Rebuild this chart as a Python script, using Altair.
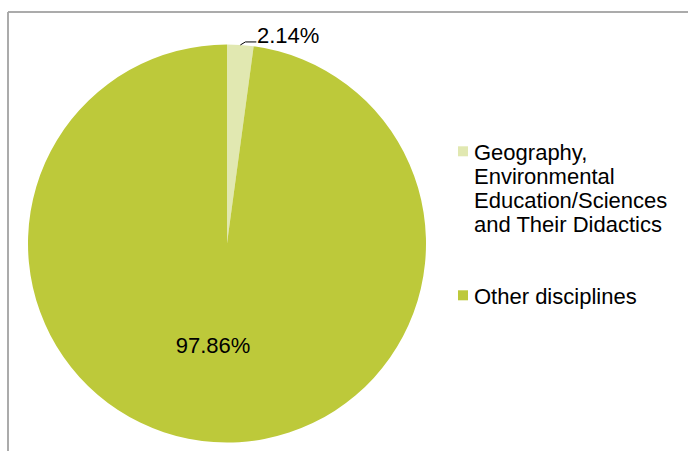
import math
import altair as alt
import pandas as pd

# ---- data ----
categories = [
    "Geography, Environmental Education/Sciences and Their Didactics",
    "Other disciplines",
]
values = [2.14, 97.86]
pct_labels = ["2.14%", "97.86%"]
legend_lines = [
    ["Geography,", "Environmental", "Education/Sciences", "and Their Didactics"],
    ["Other disciplines"],
]
colors = ["#e1e8b1", "#bdc93a"]

# ---- layout ----
W, H = 688, 451
CX, CY, R = 227, 243.5, 199
FONT = "Liberation Sans"

df = pd.DataFrame({"category": categories, "value": values, "label": pct_labels,
                   "order": list(range(len(categories)))})

label_expr = " : ".join(
    [f"datum.label == {c!r} ? {l!r}" for c, l in zip(categories, legend_lines)]
    + ["datum.label"]
)

# square legend swatch, nudged down so it sits beside the first label line
SWATCH = "M-1,0.66H1V2.66H-1Z"

base = alt.Chart(df).encode(
    theta=alt.Theta("value:Q", stack=True),
    order=alt.Order("order:Q"),
    x=alt.value(CX),
    y=alt.value(CY),
)

pie = base.mark_arc(outerRadius=R).encode(
    color=alt.Color(
        "category:N",
        scale=alt.Scale(domain=categories, range=colors),
        sort=categories,
        legend=alt.Legend(
            orient="none",
            legendX=452,
            legendY=132,
            title=None,
            symbolType=SWATCH,
            symbolSize=100,
            symbolStrokeWidth=0,
            labelFont=FONT,
            labelFontSize=22,
            labelColor="#000000",
            labelLimit=400,
            labelOffset=0,
            labelBaseline="top",
            rowPadding=40,
            labelExpr=label_expr,
        ),
    )
)

outer_text = base.mark_text(
    radius=208, align="left", baseline="middle", dx=16, font=FONT, fontSize=22, color="#000000"
).transform_calculate(lbl="datum.value < 5 ? datum.label : ''").encode(text="lbl:N")

inner_text = base.mark_text(
    radius=103, align="center", baseline="middle", dx=-7, font=FONT, fontSize=22, color="#000000"
).transform_calculate(lbl="datum.value >= 5 ? datum.label : ''").encode(text="lbl:N")

# leader line for the small slice, derived from its angle
a = values[0] / 2 / sum(values) * 2 * math.pi
x0, y0 = CX + R * math.sin(a), CY - R * math.cos(a)
leader = pd.DataFrame({
    "px": [x0, x0 + 5, x0 + 16],
    "py": [y0, y0 - 3, y0 - 3],
    "k": [0, 1, 2],
})
leader_line = alt.Chart(leader).mark_line(color="#000000", strokeWidth=1).encode(
    x=alt.X("px:Q", scale=None),
    y=alt.Y("py:Q", scale=None),
    order="k:Q",
)

frame_top = alt.Chart(df).mark_rule(color="#a6a6a6", strokeWidth=1.5).encode(
    x=alt.value(8), x2=alt.value(W), y=alt.value(12)
)
frame_left = alt.Chart(df).mark_rule(color="#a6a6a6", strokeWidth=1.5).encode(
    x=alt.value(8), y=alt.value(12), y2=alt.value(H)
)

chart = alt.layer(frame_top, frame_left, pie, leader_line, outer_text, inner_text).properties(
    width=W, height=H, padding=0, autosize=alt.AutoSizeParams(type="none"),
    background="#ffffff",
).configure_view(stroke=None)

chart.save("out.html", embed_options={"renderer": "svg", "actions": False})
